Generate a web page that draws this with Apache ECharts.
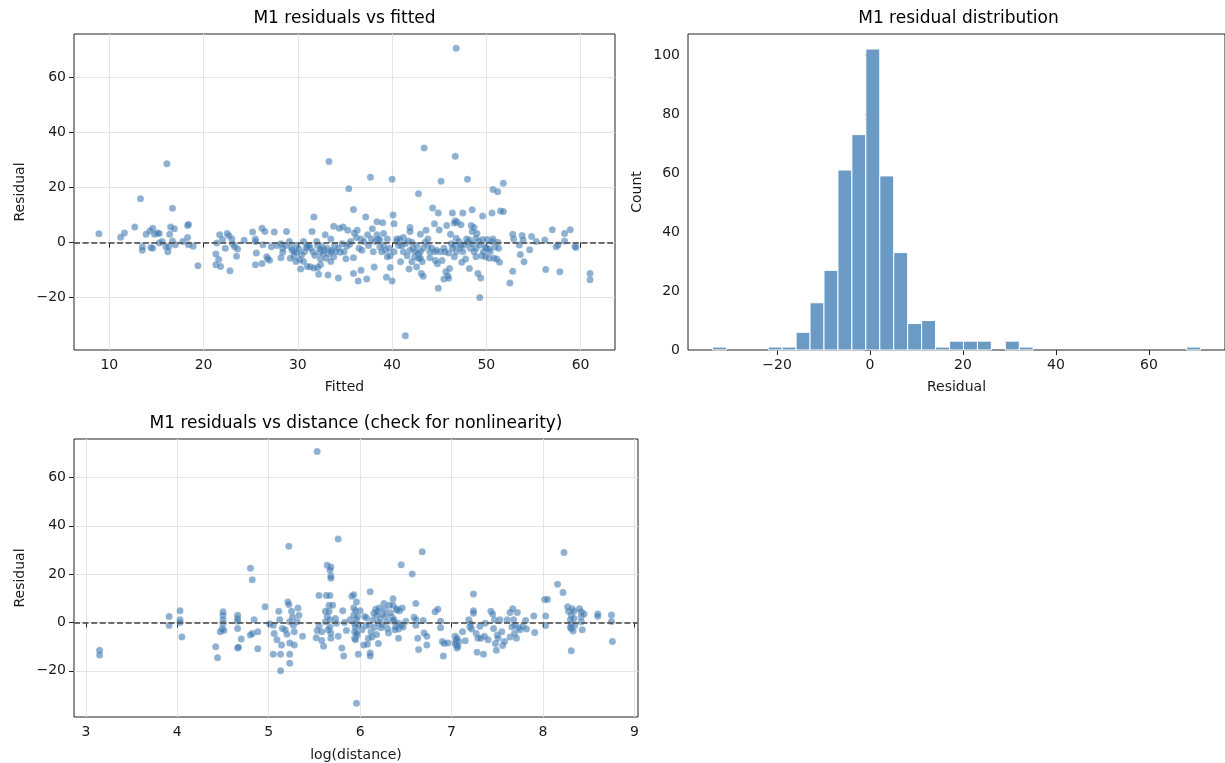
<!DOCTYPE html>
<html>
<head>
<meta charset="utf-8">
<script src="https://cdn.jsdelivr.net/npm/echarts@6/dist/echarts.min.js"></script>
<style>
html,body{margin:0;padding:0;background:#fff;}
#chart{width:1225px;height:763px;}
</style>
</head>
<body>
<div id="chart"></div>
<script>
// ---------- DATA ----------
// Panel 1: [fitted, residual]
const residVsFitted = [
[8.9,3.2],[11.2,1.9],[11.6,3.5],[12.7,5.7],[13.3,15.9],[13.5,-1.5],[13.5,-2.8],[13.9,3.0],[14.3,4.2],[14.4,-1.8],
[14.6,5.2],[14.6,-2.1],[14.8,3.0],[15.1,3.5],[15.3,3.3],[15.3,-0.2],[15.6,0.4],[16.0,-1.5],[16.1,28.7],[16.2,-3.3],
[16.3,-1.5],[16.4,3.0],[16.5,5.7],[16.7,12.5],[16.9,5.0],[16.7,0.6],[17.0,-0.8],[17.8,0.4],[18.3,6.2],[18.4,6.6],
[18.3,1.8],[18.4,-0.8],[18.9,-1.3],[19.4,-8.4],
[21.4,-0.2],[21.7,2.8],[22.0,1.1],[22.3,-2.1],[21.3,-4.2],[21.6,-6.2],[21.3,-8.1],[21.8,-8.7],[22.5,3.3],[22.7,2.5],
[23.0,1.3],[23.1,-0.6],[23.3,-1.5],[23.6,-2.3],[23.5,-5.0],[22.8,-10.3],[24.3,0.8],[25.2,3.8],[25.5,1.3],[25.5,0.4],
[25.6,-3.8],[25.5,-8.1],[26.2,-7.6],[26.2,5.2],[26.5,4.0],[26.3,-0.8],[26.7,-5.2],[26.8,-5.9],[27.0,-6.4],[27.2,-1.5],
[27.5,3.8],[27.8,-1.1],[28.2,-0.4],[28.4,-2.1],[28.4,-3.5],[28.8,4.0],[29.1,0.4],[29.2,-5.7],[29.6,-5.0],[29.8,-6.9],
[29.9,-1.1],[30.2,-6.3],[30.3,-9.6],[30.6,0.4],[30.9,-1.6],[31.0,-8.7],[31.3,-8.8],[31.3,-2.1],[31.7,9.3],[32.0,0.4],
[32.1,-9.1],[32.2,-11.5],[32.3,-3.5],[32.4,-5.9],[32.6,-1.5],[32.8,-2.8],[32.9,2.8],[33.2,-11.8],[33.3,-4.0],[33.5,-3.3],
[33.5,1.3],[33.8,5.9],[33.8,-5.2],[33.9,-1.1],[34.3,-12.9],[34.4,5.2],[34.5,-3.5],[34.8,5.7],[35.1,-5.9],[35.3,4.5],
[35.5,-0.6],[31.5,4.0],[31.0,-1.5],[29.9,-3.5],[29.4,-2.8],[28.2,-5.5],
[28.7,-1.1],[29.3,-1.8],[29.6,-3.3],[30.1,-2.3],[30.4,-4.5],[30.7,-3.3],[31.2,-1.1],[31.6,-3.3],[31.8,-4.7],[32.1,-1.1],
[32.4,-2.3],[32.7,-4.0],[33.0,-5.7],[33.1,-2.1],[33.6,-2.8],[34.0,-3.3],[34.3,-2.1],[34.7,-0.4],[34.9,-3.3],[35.2,-1.3],
[30.6,-6.9],[31.7,-9.3],[33.5,-6.9],[32.4,-8.1],[33.3,29.5],
[46.8,70.7],[43.4,34.4],[46.7,31.4],[37.7,23.8],[40.0,23.0],[45.2,22.3],[48.0,23.0],[51.8,21.6],[35.4,19.6],[50.7,19.3],
[51.2,18.5],[42.8,17.8],[41.4,-33.9],
[35.9,12.0],[37.2,9.3],[40.1,10.0],[40.2,6.8],[38.4,7.6],[39.0,7.2],[44.3,12.6],[44.9,10.8],[46.4,10.8],[47.5,10.8],
[48.5,11.9],[49.6,9.7],[50.6,10.8],[51.5,11.5],[51.8,11.3],[46.7,7.9],[46.9,7.4],[46.6,7.1],[47.3,6.5],[48.4,6.2],
[48.7,5.5],[48.5,4.0],[49.0,3.3],[45.8,6.2],[46.2,3.0],[44.5,6.8],[45.0,4.6],[43.6,4.5],[43.0,3.0],[41.9,5.5],
[41.9,4.0],[41.2,1.8],[39.1,3.3],[38.4,2.8],[37.9,5.0],[37.4,2.8],[36.7,1.3],[36.3,4.5],[36.0,3.5],
[35.9,-5.5],[35.9,-11.3],[36.4,-14.0],[36.7,-10.1],[37.3,-13.3],[38.1,-8.9],[38.7,-1.6],[38.9,-3.3],[39.4,-12.6],[39.8,-9.1],
[40.0,-14.0],[39.8,-4.8],[39.5,-5.2],[40.5,0.4],[40.7,-1.1],[40.9,-7.0],[41.2,-3.3],[41.9,-2.8],[41.8,-9.6],[42.1,-7.0],
[42.4,-5.2],[42.6,-8.9],[42.8,-4.0],[43.0,-3.3],[43.2,-7.0],[43.1,-11.3],[43.3,-12.3],[43.8,-1.1],[44.0,-3.3],[44.6,-6.5],
[44.8,-7.7],[44.9,-16.6],[45.5,-13.3],[45.7,-10.6],[45.9,-12.1],[46.0,-13.0],[46.1,-9.4],[46.6,-5.2],[46.8,-3.3],[47.2,-2.1],
[47.4,-7.2],[47.8,-6.0],[48.2,-9.4],[48.3,-2.1],[48.9,-5.2],[49.1,-11.3],[49.4,-12.9],[49.3,-20.0],[49.5,-4.8],[49.9,-1.6],
[50.4,-3.3],[50.3,-5.7],[50.8,-5.7],[51.1,-6.0],[51.4,-7.2],[50.1,1.1],[50.7,1.3],[50.9,-1.6],[52.5,-14.7],[52.8,-10.4],
[52.8,3.0],[52.9,1.3],[53.5,-0.9],[53.6,-4.3],[53.8,2.6],[53.9,0.9],[54.0,-7.0],[54.6,-2.6],[54.8,2.2],[55.3,0.4],
[56.2,0.9],[56.3,-9.8],[57.0,4.7],[57.4,-1.5],[57.6,-0.9],[57.8,-10.6],[58.3,3.3],[58.3,0.6],[58.9,4.7],[59.4,-1.3],
[59.5,-1.8],[61.0,-11.3],[61.0,-13.5],
[35.6,0.4],[36.2,1.8],[36.5,-2.1],[36.8,-2.8],[37.0,0.4],[37.5,-1.1],[37.8,1.3],[38.0,-3.3],[38.2,0.4],[38.5,1.3],
[38.7,0.9],[39.1,-1.1],[39.3,-2.8],[39.5,1.3],[39.7,-2.1],[40.2,-3.3],[40.5,1.3],[40.8,1.3],[41.0,-1.1],[41.4,-0.4],
[41.6,-4.8],[41.7,0.6],[42.1,0.1],[42.2,-2.1],[42.5,-3.3],[42.6,-1.1],[42.8,-5.7],[43.0,-5.7],[43.3,-2.1],[43.5,0.1],
[43.8,1.3],[44.0,-5.5],[44.2,-2.1],[44.5,-3.3],[44.7,-2.8],[45.1,-3.3],[45.3,-6.5],[45.5,-2.1],[45.6,-3.3],[46.0,-3.8],
[46.3,-0.4],[46.4,-2.1],[46.6,-1.1],[46.8,1.6],[47.1,0.4],[47.3,-1.1],[47.5,-3.3],[47.7,-0.9],[47.9,1.3],[48.0,0.1],
[48.2,0.9],[48.5,-0.4],[48.7,-3.3],[48.9,-2.1],[48.9,1.6],[49.2,0.4],[49.3,-0.9],[49.6,1.1],[49.7,-3.3],[49.9,-5.2],
[50.0,-2.1],[50.3,-2.3],[50.6,0.4],[51.2,0.1],[51.3,-2.1]
];

// Panel 2: histogram bin edges and counts
const binEdges = [-33.9,-30.9,-27.9,-24.9,-21.9,-18.9,-15.9,-12.9,-9.9,-6.9,-3.9,-0.9,2.1,5.1,8.1,11.1,14.1,17.1,
  20.1,23.1,26.1,29.1,32.1,35.1,38.1,41.1,44.1,47.1,50.1,53.1,56.1,59.1,62.1,65.1,68.1,71.1];
const binCounts = [1,0,0,0,1,1,6,16,27,61,73,102,59,33,9,10,1,3,3,3,0,3,1,0,0,0,0,0,0,0,0,0,0,0,1];

// Panel 3: [log(distance), residual]
const residVsLogDist = [
[3.15,-11.5],[3.15,-13.5],[3.91,2.5],[3.91,-1.2],[4.03,4.9],[4.03,1.1],[4.03,0.0],[4.05,-6.0],[4.42,-10.0],[4.44,-14.6],
[4.50,4.4],[4.50,3.0],[4.50,1.1],[4.50,-0.5],[4.49,-2.7],[4.47,-3.8],[4.51,-3.3],
[4.66,3.0],[4.66,1.6],[4.66,0.5],[4.66,-2.5],[4.66,-10.6],[4.67,-10.2],
[4.70,-6.8],[4.80,-5.2],[4.82,-4.6],[4.84,1.1],[4.88,-3.8],[4.88,-10.9],[4.80,22.4],[4.82,17.7],[4.96,6.5],
[5.01,-0.5],[5.05,-1.1],[5.06,-4.6],[5.09,-7.1],[5.11,4.6],[5.12,1.1],[5.14,-9.3],[5.13,-13.1],[5.05,-13.1],[5.15,-2.5],
[5.18,-3.0],[5.20,-4.9],[5.21,8.5],[5.22,7.4],[5.23,0.3],[5.23,-8.5],[5.23,-13.1],[5.23,-16.9],[5.25,4.6],[5.26,2.2],
[5.27,-1.1],[5.28,-3.8],[5.28,-9.3],[5.31,0.3],[5.32,6.0],[5.33,3.0],[5.37,-5.7],[5.13,-20.0],[5.22,31.5],
[5.52,-6.3],[5.55,11.2],[5.55,-1.4],[5.58,-3.8],[5.60,-9.8],[5.62,4.6],[5.62,0.3],[5.63,11.2],[5.64,2.5],[5.65,-3.0],
[5.66,7.1],[5.66,4.6],[5.67,11.2],[5.67,1.1],[5.67,-1.9],[5.68,-4.4],[5.68,-6.5],[5.70,7.1],[5.73,1.6],[5.74,-0.3],
[5.76,-5.7],[5.80,-10.6],[5.81,4.9],[5.82,-13.9],[5.83,0.0],[5.85,-3.3],[5.53,70.7],[5.76,34.5],[5.64,23.7],[5.68,22.9],
[5.67,21.7],[5.68,19.2],[5.68,18.3],[5.53,-3.3],[5.58,-7.5],
[5.89,1.1],[5.91,10.9],[5.93,6.0],[5.93,11.5],[5.93,3.0],[5.94,-0.5],[5.94,-3.8],[5.94,-6.5],[5.95,-7.1],[5.96,8.5],
[5.96,1.1],[5.97,-5.2],[5.98,-13.1],[6.00,4.9],[6.02,-3.0],[6.04,-9.3],[6.06,-1.4],[6.07,1.9],[6.09,-6.5],[6.11,12.7],
[6.11,-12.6],[6.11,-13.9],[6.12,-3.8],[6.15,3.8],[6.17,5.5],[6.18,3.0],[6.20,-8.7],[6.20,0.0],[6.23,-2.2],[6.26,7.9],
[6.28,2.7],[6.29,0.3],[6.31,-4.4],[6.32,7.1],[6.35,2.2],[6.40,5.2],[6.42,-0.3],[5.96,-33.4],
[5.95,-2.0],[5.96,-4.5],[5.97,2.5],[5.95,5.0],[5.98,-1.0],[6.05,2.5],[6.10,-1.0],[6.14,1.0],[6.16,-2.0],[6.19,4.5],
[6.21,6.0],[6.22,1.5],[6.24,-1.0],[6.25,3.5],[6.27,5.5],[6.30,-2.5],[6.33,4.0],[6.36,0.5],[6.38,-3.0],[6.13,-6.0],
[6.08,-9.0],[6.18,-5.0],
[6.36,9.8],[6.36,7.1],[6.40,5.7],[6.43,4.9],[6.46,6.0],[6.37,1.1],[6.39,-1.9],[6.42,-2.7],[6.45,-1.1],[6.47,-1.9],
[6.50,0.5],[6.42,-6.5],[6.61,7.9],[6.59,2.2],[6.61,1.1],[6.61,-1.1],[6.63,-6.5],[6.64,-11.2],[6.69,0.8],[6.70,-4.4],
[6.73,-5.7],[6.73,-9.3],[6.82,4.4],[6.85,5.5],[6.88,0.5],[6.88,-2.2],[6.90,-7.9],[6.91,-13.9],[6.92,-8.7],[6.96,-8.5],
[7.04,-5.7],[7.05,-7.1],[7.05,-9.3],[7.06,-10.6],[7.08,-7.9],[7.12,-3.8],[7.15,-7.6],[7.19,1.1],[7.20,-1.9],[7.21,-0.5],
[7.22,-2.7],[7.24,11.8],[7.24,4.9],[7.24,3.8],[7.27,-4.6],[7.28,-12.3],[7.29,-6.5],[7.31,-1.6],[7.32,-6.5],[7.35,-13.1],
[7.36,-5.7],[7.37,-0.3],[7.40,-7.1],[7.43,4.6],[7.45,3.5],[7.46,-2.5],[7.47,1.1],[7.48,-8.7],[7.49,-11.5],[7.50,-5.2],
[7.51,-6.5],[7.53,1.1],[7.55,-3.8],[7.56,-9.5],[7.58,-7.9],[7.61,1.1],[7.64,4.1],[7.64,-6.0],[7.66,-1.9],[7.67,5.7],
[7.68,1.1],[7.69,-1.1],[7.69,-4.6],[7.71,-6.5],[7.72,4.1],[7.73,-2.2],[7.75,-3.0],[7.78,-1.6],[7.81,0.8],[7.82,-2.7],
[7.90,2.7],[7.91,-4.1],[6.68,29.3],[6.45,23.9],[6.57,20.1],[7.04,-8.5],[7.06,-6.5],[7.07,-9.8],
[8.02,9.5],[8.05,9.5],[8.03,2.7],[8.03,-1.3],[8.16,15.8],[8.22,12.4],[8.23,28.9],[8.27,6.5],[8.28,4.6],[8.31,3.0],
[8.30,1.1],[8.31,-0.5],[8.31,-2.5],[8.32,5.7],[8.34,4.6],[8.34,1.6],[8.35,-1.1],[8.40,5.7],[8.42,4.4],[8.42,2.5],
[8.42,0.3],[8.43,-3.0],[8.45,3.5],[8.31,-11.7],[8.30,-2.0],[8.33,-3.5],[8.60,3.5],[8.60,2.6],[8.75,3.1],[8.75,0.4],
[8.76,-7.9]
];

// Tick values
const fittedTicks = [10,20,30,40,50,60];
const residTicks = [-20,0,20,40,60];
const histXTicks = [-20,0,20,40,60];
const countTicks = [0,20,40,60,80,100];
const logDistTicks = [3,4,5,6,7,8,9];

// ---------- STYLE ----------
const FONT = 'DejaVu Sans';
const TXT = '#1a1a1a';
const minus = v => String(v).replace('-', '\u2212');

function valAxis(gridIndex, min, max, ticks, name, nameGap, grid) {
  return {
    type: 'value', gridIndex, min, max, name,
    nameLocation: 'middle', nameGap,
    nameTextStyle: {fontFamily: FONT, fontSize: 14, color: TXT},
    axisLine: {show: false},
    axisTick: {show: true, length: 5, lineStyle: {color: '#222', width: 1}, customValues: ticks},
    axisLabel: {show: true, fontFamily: FONT, fontSize: 14, color: TXT, margin: 8,
      customValues: ticks, formatter: minus, showMinLabel: true, showMaxLabel: true},
    splitLine: {show: grid, lineStyle: {color: '#e4e4e4', width: 1}},
    minorTick: {show: false}
  };
}

const zeroLine = {
  silent: true, symbol: ['none', 'none'], animation: false,
  label: {show: false},
  lineStyle: {type: [6, 2.6], color: '#555555', width: 2, opacity: 0.85},
  data: [{yAxis: 0}]
};

const dotStyle = {color: 'rgba(60,120,175,0.72)', borderColor: 'rgba(255,255,255,0.35)', borderWidth: 0.4};

const histData = [];
for (let i = 0; i < binCounts.length; i++) {
  if (binCounts[i] > 0) histData.push([binEdges[i], binEdges[i + 1], binCounts[i]]);
}

const titleStyle = {fontFamily: FONT, fontSize: 17, fontWeight: 'normal', color: '#000'};

const option = {
  animation: false,
  backgroundColor: '#fff',
  title: [
    {text: 'M1 residuals vs fitted', left: 344.5, top: 10, textAlign: 'center', padding: 0, textStyle: titleStyle},
    {text: 'M1 residual distribution', left: 958.5, top: 10, textAlign: 'center', padding: 0, textStyle: titleStyle},
    {text: 'M1 residuals vs distance (check for nonlinearity)', left: 356, top: 415, textAlign: 'center', padding: 0, textStyle: titleStyle}
  ],
  grid: [
    {left: 74, top: 34, width: 541, height: 316, show: true, borderColor: '#222', borderWidth: 1, containLabel: false},
    {left: 688, top: 34, width: 541, height: 316, show: true, borderColor: '#222', borderWidth: 1, containLabel: false},
    {left: 74, top: 439, width: 564, height: 280, show: true, borderColor: '#222', borderWidth: 1, containLabel: false}
  ],
  xAxis: [
    valAxis(0, 6.25, 63.65, fittedTicks, 'Fitted', 30, true),
    valAxis(1, -39.15, 76.35, histXTicks, 'Residual', 30, false),
    valAxis(2, 2.87, 9.04, logDistTicks, 'log(distance)', 31, true)
  ],
  yAxis: [
    valAxis(0, -39.1, 75.9, residTicks, 'Residual', 47, true),
    valAxis(1, 0, 107.1, countTicks, 'Count', 44, false),
    valAxis(2, -39.1, 75.9, residTicks, 'Residual', 47, true)
  ],
  series: [
    {type: 'scatter', xAxisIndex: 0, yAxisIndex: 0, symbolSize: 7, itemStyle: dotStyle,
      data: residVsFitted, markLine: zeroLine, z: 3},
    {type: 'custom', xAxisIndex: 1, yAxisIndex: 1, data: histData,
      encode: {x: [0, 1], y: 2},
      renderItem: function (params, api) {
        const p0 = api.coord([api.value(0), api.value(2)]);
        const p1 = api.coord([api.value(1), 0]);
        return {type: 'rect',
          shape: {x: p0[0], y: p0[1], width: p1[0] - p0[0], height: p1[1] - p0[1]},
          style: {fill: '#6b9bc4', stroke: '#ffffff', lineWidth: 1}};
      }},
    {type: 'scatter', xAxisIndex: 2, yAxisIndex: 2, symbolSize: 7, itemStyle: dotStyle,
      data: residVsLogDist, markLine: zeroLine, z: 3}
  ]
};

const chart = echarts.init(document.getElementById('chart'), null, {renderer: 'canvas'});
chart.setOption(option);
</script>
</body>
</html>
